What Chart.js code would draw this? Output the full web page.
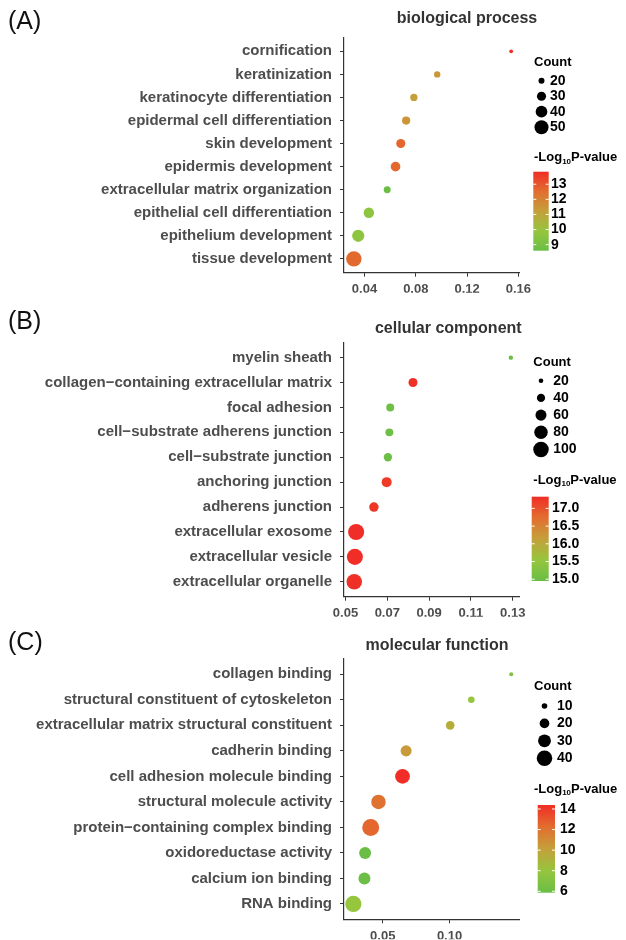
<!DOCTYPE html>
<html>
<head>
<meta charset="utf-8">
<script src="https://cdn.jsdelivr.net/npm/chart.js@4.4.1/dist/chart.umd.min.js"></script>
<style>
  body { margin: 0; background: #fff; }
  .panel { position: absolute; left: 0; width: 626px; }
</style>
</head>
<body>
<div class="panel" style="top:0;height:300px"><canvas id="chartBP"></canvas></div>
<div class="panel" style="top:300px;height:320px"><canvas id="chartCC"></canvas></div>
<div class="panel" style="top:620px;height:320px"><canvas id="chartMF"></canvas></div>
<script>
// GO enrichment dot plots: x = gene ratio, dot size = count, colour = -log10 P

// --- (A) biological process ---
const bpTerms = ['cornification', 'keratinization', 'keratinocyte differentiation', 'epidermal cell differentiation',
    'skin development', 'epidermis development', 'extracellular matrix organization',
    'epithelial cell differentiation', 'epithelium development', 'tissue development'];
const bpRatio = [0.1544, 0.0967, 0.0785, 0.0725, 0.0683, 0.0642, 0.0577, 0.0434, 0.0351, 0.0317];
const bpCount = [14, 21, 24, 27, 30, 32, 23, 35, 42, 57];
const bpLogP = [13.83, 11.48, 11.2, 11.5, 12.68, 12.63, 8.6, 9.65, 9.65, 12.6];
const bpTicks = [0.04, 0.08, 0.12, 0.16];
const bpCountBreaks = [20, 30, 40, 50];
const bpPBreaks = [9, 10, 11, 12, 13];

// --- (B) cellular component ---
const ccTerms = ['myelin sheath', 'collagen\u2212containing extracellular matrix', 'focal adhesion',
    'cell\u2212substrate adherens junction', 'cell\u2212substrate junction', 'anchoring junction',
    'adherens junction', 'extracellular exosome', 'extracellular vesicle', 'extracellular organelle'];
const ccRatio = [0.1291, 0.0823, 0.0714, 0.0710, 0.0703, 0.0697, 0.0636, 0.0551, 0.0545, 0.0542];
const ccCount = [19, 45, 38, 38, 40, 52, 48, 106, 106, 100];
const ccLogP = [14.95, 17.3, 15.02, 15.0, 14.98, 17.2, 17.25, 17.33, 17.33, 17.3];
const ccTicks = [0.05, 0.07, 0.09, 0.11, 0.13];
const ccCountBreaks = [20, 40, 60, 80, 100];
const ccPBreaks = [15.0, 15.5, 16.0, 16.5, 17.0];

// --- (C) molecular function ---
const mfTerms = ['collagen binding', 'structural constituent of cytoskeleton',
    'extracellular matrix structural constituent', 'cadherin binding', 'cell adhesion molecule binding',
    'structural molecule activity', 'protein\u2212containing complex binding', 'oxidoreductase activity',
    'calcium ion binding', 'RNA binding'];
const mfRatio = [0.1462, 0.1163, 0.1005, 0.0675, 0.0648, 0.0468, 0.0410, 0.0368, 0.0363, 0.0280];
const mfCount = [7, 12, 17, 24, 37, 36, 46, 27, 27, 43];
const mfLogP = [6.9, 8.0, 9.44, 10.4, 14.39, 12.1, 12.5, 5.86, 5.95, 8.0];
const mfTicks = [0.05, 0.10];
const mfCountBreaks = [10, 20, 30, 40];
const mfPBreaks = [6, 8, 10, 12, 14];

// low (green) -> high (red)
const colorStops = [[106, 190, 70], [150, 197, 62], [196, 160, 58], [226, 110, 48], [240, 45, 38]];
const FONT = '"Liberation Sans", Arial, Helvetica, sans-serif';

const panels = [
    {
        id: 'chartBP', letter: '(A)', title: 'biological process',
        terms: bpTerms, ratio: bpRatio, count: bpCount, logP: bpLogP,
        ticks: bpTicks, countBreaks: bpCountBreaks, pBreaks: bpPBreaks, pDigits: 0,
        top: 0, height: 300, plotTop: 37.5, plotBottom: 272.7, xMin: 0.024, xMax: 0.1605,
        size: [20, 6.0, 50, 14.0],
        letterY: 22, titleX: 467, titleY: 18.3,
        leg: { x: 534, countTitleY: 62.7, dotX: 541.5, labelX: 550, rowY: 80.7, rowStep: 15.5,
               pTitleY: 157.3, barL: 533.3, barR: 548.7, barT: 171.7, barB: 250.7, pLabelX: 551 }
    },
    {
        id: 'chartCC', letter: '(B)', title: 'cellular component',
        terms: ccTerms, ratio: ccRatio, count: ccCount, logP: ccLogP,
        ticks: ccTicks, countBreaks: ccCountBreaks, pBreaks: ccPBreaks, pDigits: 1,
        top: 300, height: 320, plotTop: 342.7, plotBottom: 596.7, xMin: 0.0493, xMax: 0.133,
        size: [20, 4.6, 100, 15.5],
        letterY: 321.7, titleX: 448.3, titleY: 328.3,
        leg: { x: 533.3, countTitleY: 362.7, dotX: 541, labelX: 553.3, rowY: 380.7, rowStep: 17.2,
               pTitleY: 480, barL: 531.7, barR: 548.7, barT: 496.7, barB: 581, pLabelX: 552 }
    },
    {
        id: 'chartMF', letter: '(C)', title: 'molecular function',
        terms: mfTerms, ratio: mfRatio, count: mfCount, logP: mfLogP,
        ticks: mfTicks, countBreaks: mfCountBreaks, pBreaks: mfPBreaks, pDigits: 0,
        top: 620, height: 320, plotTop: 659, plotBottom: 919.3, xMin: 0.021, xMax: 0.152,
        size: [10, 5.6, 40, 15.5],
        letterY: 643, titleX: 437, titleY: 645.7,
        leg: { x: 534, countTitleY: 686.7, dotX: 544.5, labelX: 557, rowY: 706, rowStep: 17.4,
               pTitleY: 789, barL: 537.7, barR: 555, barT: 805, barB: 892.7, pLabelX: 560 }
    }
];

function rgb(c) {
    return `rgb(${Math.round(c[0])}, ${Math.round(c[1])}, ${Math.round(c[2])})`;
}

function pColor(t) {
    t = Math.max(0, Math.min(1, t));
    const s = t * (colorStops.length - 1);
    const i = Math.min(Math.floor(s), colorStops.length - 2);
    const f = s - i;
    const a = colorStops[i], b = colorStops[i + 1];
    return rgb([a[0] + (b[0] - a[0]) * f, a[1] + (b[1] - a[1]) * f, a[2] + (b[2] - a[2]) * f]);
}

// area-style size scale: diameter linear in sqrt(count)
function radiusFor(p, c) {
    const [c1, d1, c2, d2] = p.size;
    const d = d1 + (Math.sqrt(c) - Math.sqrt(c1)) / (Math.sqrt(c2) - Math.sqrt(c1)) * (d2 - d1);
    return Math.max(d, 3) / 2;
}

const goLegend = {
    id: 'goLegend',
    afterDraw(chart, args, opts) {
        const p = opts.panel;
        const L = p.leg;
        const off = p.top;
        const ctx = chart.ctx;
        const pMin = Math.min(...p.logP), pMax = Math.max(...p.logP);
        ctx.save();

        // panel letter + title
        ctx.textBaseline = 'middle';
        ctx.fillStyle = '#111';
        ctx.textAlign = 'left';
        ctx.font = `25px ${FONT}`;
        ctx.fillText(p.letter, 8, p.letterY - off);
        ctx.fillStyle = '#333';
        ctx.textAlign = 'center';
        ctx.font = `bold 16px ${FONT}`;
        ctx.fillText(p.title, p.titleX, p.titleY - off);

        // size legend
        ctx.textAlign = 'left';
        ctx.fillStyle = '#000';
        ctx.font = `bold 13px ${FONT}`;
        ctx.fillText('Count', L.x, L.countTitleY - off);
        ctx.font = `bold 14px ${FONT}`;
        p.countBreaks.forEach((c, i) => {
            const y = L.rowY + i * L.rowStep - off;
            ctx.beginPath();
            ctx.arc(L.dotX, y, radiusFor(p, c), 0, Math.PI * 2);
            ctx.fill();
            ctx.fillText(String(c), L.labelX, y);
        });

        // colour legend title with subscript
        let x = L.x;
        const ty = L.pTitleY - off;
        ctx.font = `bold 13px ${FONT}`;
        ctx.fillText('-Log', x, ty);
        x += ctx.measureText('-Log').width;
        ctx.font = `bold 8px ${FONT}`;
        ctx.fillText('10', x, ty + 4);
        x += ctx.measureText('10').width;
        ctx.font = `bold 13px ${FONT}`;
        ctx.fillText('P-value', x, ty);

        // colour bar
        const top = L.barT - off, bot = L.barB - off;
        const grad = ctx.createLinearGradient(0, bot, 0, top);
        colorStops.forEach((c, i) => grad.addColorStop(i / (colorStops.length - 1), rgb(c)));
        ctx.fillStyle = grad;
        ctx.fillRect(L.barL, top, L.barR - L.barL, bot - top);

        ctx.font = `bold 14px ${FONT}`;
        p.pBreaks.forEach(b => {
            const y = bot - (b - pMin) / (pMax - pMin) * (bot - top);
            ctx.strokeStyle = '#fff';
            ctx.lineWidth = 1;
            ctx.beginPath();
            ctx.moveTo(L.barL, y); ctx.lineTo(L.barL + 3, y);
            ctx.moveTo(L.barR - 3, y); ctx.lineTo(L.barR, y);
            ctx.stroke();
            ctx.fillStyle = '#000';
            ctx.fillText(b.toFixed(p.pDigits), L.pLabelX, y);
        });
        ctx.restore();
    }
};

function makeChart(p) {
    const n = p.terms.length;
    const points = p.terms.map((t, i) => ({ x: p.ratio[i], y: n - i, r: radiusFor(p, p.count[i]) }));
    const pMin = Math.min(...p.logP), pMax = Math.max(...p.logP);
    const colors = p.logP.map(v => pColor((v - pMin) / (pMax - pMin)));

    const axisGrid = { drawOnChartArea: false, drawTicks: true, tickLength: 4, color: '#333', lineWidth: 1 };
    const axisBorder = { display: true, color: '#333', width: 1.2 };

    new Chart(document.getElementById(p.id), {
        type: 'bubble',
        data: {
            datasets: [{
                data: points,
                backgroundColor: colors,
                borderWidth: 0,
                hoverBorderWidth: 0,
                clip: false
            }]
        },
        options: {
            responsive: true,
            maintainAspectRatio: false,
            animation: false,
            events: [],
            layout: {
                padding: { top: p.plotTop - p.top, right: 107, bottom: p.top + p.height - p.plotBottom - 20, left: 0 }
            },
            plugins: {
                legend: { display: false },
                tooltip: { enabled: false },
                goLegend: { panel: p }
            },
            scales: {
                x: {
                    type: 'linear',
                    min: p.xMin,
                    max: p.xMax,
                    afterBuildTicks: s => { s.ticks = p.ticks.map(v => ({ value: v })); },
                    afterFit: s => { s.height = 20; },
                    grid: axisGrid,
                    border: axisBorder,
                    ticks: {
                        autoSkip: false,
                        maxRotation: 0,
                        padding: 5,
                        color: '#4d4d4d',
                        font: { family: FONT, size: 13, weight: 'bold' },
                        callback: v => Number(v).toFixed(2)
                    }
                },
                y: {
                    type: 'linear',
                    min: 0.4,
                    max: n + 0.6,
                    afterBuildTicks: s => { s.ticks = p.terms.map((t, i) => ({ value: i + 1 })); },
                    afterFit: s => { s.width = 344; },
                    grid: axisGrid,
                    border: axisBorder,
                    ticks: {
                        autoSkip: false,
                        padding: 8,
                        color: '#4d4d4d',
                        font: { family: FONT, size: 15, weight: 'bold' },
                        callback: v => p.terms[n - Math.round(v)]
                    }
                }
            }
        },
        plugins: [goLegend]
    });
}

panels.forEach(makeChart);
</script>
</body>
</html>
